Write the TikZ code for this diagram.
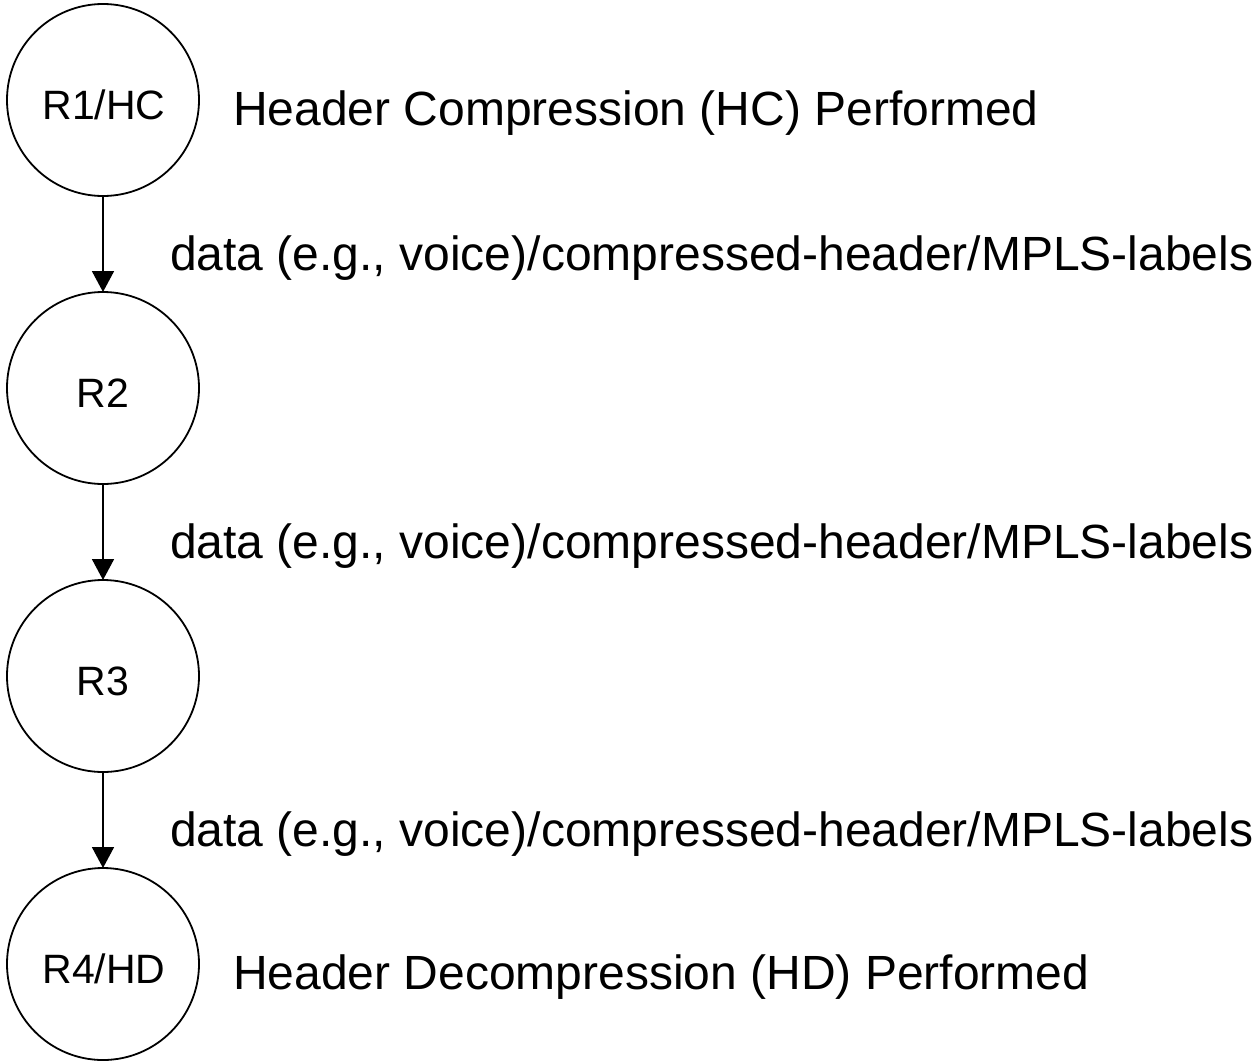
\documentclass[tikz,border=0pt]{standalone}
\usepackage{fontspec}
\setmainfont{Liberation Sans}
\usetikzlibrary{arrows.meta}
\begin{document}
\begin{tikzpicture}[x=1pt,y=-1pt,
  router/.style={draw, circle, line width=1.8pt, minimum size=192pt, inner sep=0pt, outer sep=0pt},
  rlabel/.style={anchor=base, inner sep=0pt, font=\fontsize{41}{49}\selectfont},
  desc/.style={anchor=base west, inner sep=0pt, font=\fontsize{48}{58}\selectfont},
  arr/.style={line width=1.8pt, -{Triangle[length=21pt,width=22pt]}}]
\useasboundingbox (0,0) rectangle (1257,1063);
\node[router] (r1) at (103,100) {};
\node[router] (r2) at (103,388) {};
\node[router] (r3) at (103,676) {};
\node[router] (r4) at (103,964) {};
\node[rlabel] (t1) at (104,119.5) {R1/HC};
\node[rlabel] (t2) at (103,407.5) {R2};
\node[rlabel] (t3) at (103,695.5) {R3};
\node[rlabel] (t4) at (104,983.5) {R4/HD};
\draw[arr] (r1) -- (r2);
\draw[arr] (r2) -- (r3);
\draw[arr] (r3) -- (r4);
\node[desc] (hc) at (233,125) {Header Compression (HC) Performed};
\node[desc] (d1) at (170,270) {data (e.g., voice)/compressed-header/MPLS-labels};
\node[desc] (d2) at (170,558) {data (e.g., voice)/compressed-header/MPLS-labels};
\node[desc] (d3) at (170,846) {data (e.g., voice)/compressed-header/MPLS-labels};
\node[desc] (hd) at (233,989) {Header Decompression (HD) Performed};
\end{tikzpicture}
\end{document}
